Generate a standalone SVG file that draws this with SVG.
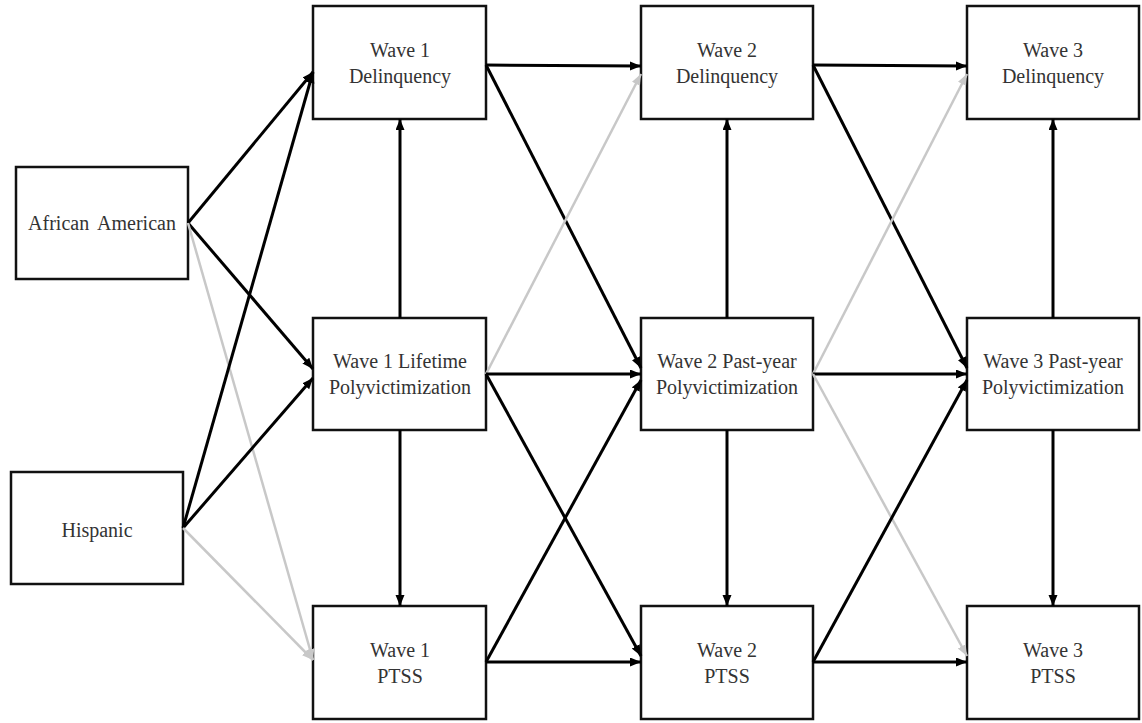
<svg xmlns="http://www.w3.org/2000/svg" width="1142" height="723" viewBox="0 0 1142 723">
<style>
.box{fill:#fff;stroke:#111;stroke-width:2.5}
.t{font-family:'Liberation Serif','Times New Roman',serif;font-size:20px;fill:#333;text-anchor:middle}
.k{stroke:#000;stroke-width:3;fill:none;marker-end:url(#ak)}
.g{stroke:#c8c8c8;stroke-width:2.5;fill:none;marker-end:url(#ag)}
</style>
<defs>
<marker id="ak" markerUnits="userSpaceOnUse" markerWidth="12" markerHeight="10" refX="11" refY="4.5" orient="auto"><path d="M0,0 L11,4.5 L0,9 z" fill="#000"/></marker>
<marker id="ag" markerUnits="userSpaceOnUse" markerWidth="12" markerHeight="10" refX="11" refY="4.5" orient="auto"><path d="M0,0 L11,4.5 L0,9 z" fill="#c8c8c8"/></marker>
</defs>
<rect width="1142" height="723" fill="#fff"/>
<g id="aa"><rect class="box" x="16" y="167" width="172" height="112"/><text class="t" x="102" y="230" word-spacing="4">African American</text></g>
<g id="hisp"><rect class="box" x="11" y="472" width="172" height="112"/><text class="t" x="97" y="537">Hispanic</text></g>
<g id="w1d"><rect class="box" x="313" y="6" width="173" height="113"/><text class="t" x="400" y="57">Wave 1</text><text class="t" x="400" y="83">Delinquency</text></g>
<g id="w1p"><rect class="box" x="313" y="318" width="173" height="112"/><text class="t" x="400" y="368">Wave 1 Lifetime</text><text class="t" x="400" y="394">Polyvictimization</text></g>
<g id="w1s"><rect class="box" x="313" y="606" width="173" height="113"/><text class="t" x="400" y="657">Wave 1</text><text class="t" x="400" y="683">PTSS</text></g>
<g id="w2d"><rect class="box" x="641" y="6" width="172" height="113"/><text class="t" x="727" y="57">Wave 2</text><text class="t" x="727" y="83">Delinquency</text></g>
<g id="w2p"><rect class="box" x="641" y="318" width="172" height="112"/><text class="t" x="727" y="368">Wave 2 Past-year</text><text class="t" x="727" y="394">Polyvictimization</text></g>
<g id="w2s"><rect class="box" x="641" y="606" width="172" height="113"/><text class="t" x="727" y="657">Wave 2</text><text class="t" x="727" y="683">PTSS</text></g>
<g id="w3d"><rect class="box" x="967" y="6" width="172" height="113"/><text class="t" x="1053" y="57">Wave 3</text><text class="t" x="1053" y="83">Delinquency</text></g>
<g id="w3p"><rect class="box" x="967" y="318" width="172" height="112"/><text class="t" x="1053" y="368">Wave 3 Past-year</text><text class="t" x="1053" y="394">Polyvictimization</text></g>
<g id="w3s"><rect class="box" x="967" y="606" width="172" height="113"/><text class="t" x="1053" y="657">Wave 3</text><text class="t" x="1053" y="683">PTSS</text></g>
<g id="connectors">
<line class="k" x1="188" y1="223" x2="313" y2="72"/>
<line class="k" x1="188" y1="223" x2="313" y2="369"/>
<line class="g" x1="188" y1="223" x2="313" y2="660"/>
<line class="k" x1="183" y1="528" x2="313" y2="72"/>
<line class="k" x1="183" y1="528" x2="313" y2="378"/>
<line class="g" x1="183" y1="528" x2="313" y2="660"/>
<line class="k" x1="400" y1="318" x2="400" y2="119"/>
<line class="k" x1="400" y1="430" x2="400" y2="606"/>
<line class="k" x1="727" y1="318" x2="727" y2="119"/>
<line class="k" x1="727" y1="430" x2="727" y2="606"/>
<line class="k" x1="1053" y1="318" x2="1053" y2="119"/>
<line class="k" x1="1053" y1="430" x2="1053" y2="606"/>
<line class="k" x1="486" y1="65" x2="641" y2="66"/>
<line class="k" x1="486" y1="65" x2="641" y2="368"/>
<line class="g" x1="486" y1="374" x2="641" y2="74"/>
<line class="k" x1="486" y1="374" x2="641" y2="374"/>
<line class="k" x1="486" y1="374" x2="641" y2="656"/>
<line class="k" x1="486" y1="662" x2="641" y2="380"/>
<line class="k" x1="486" y1="662" x2="641" y2="662"/>
<line class="k" x1="813" y1="65" x2="967" y2="66"/>
<line class="k" x1="813" y1="65" x2="967" y2="368"/>
<line class="g" x1="813" y1="374" x2="967" y2="74"/>
<line class="k" x1="813" y1="374" x2="967" y2="374"/>
<line class="g" x1="813" y1="374" x2="967" y2="656"/>
<line class="k" x1="813" y1="662" x2="967" y2="380"/>
<line class="k" x1="813" y1="662" x2="967" y2="662"/>
</g>
</svg>
